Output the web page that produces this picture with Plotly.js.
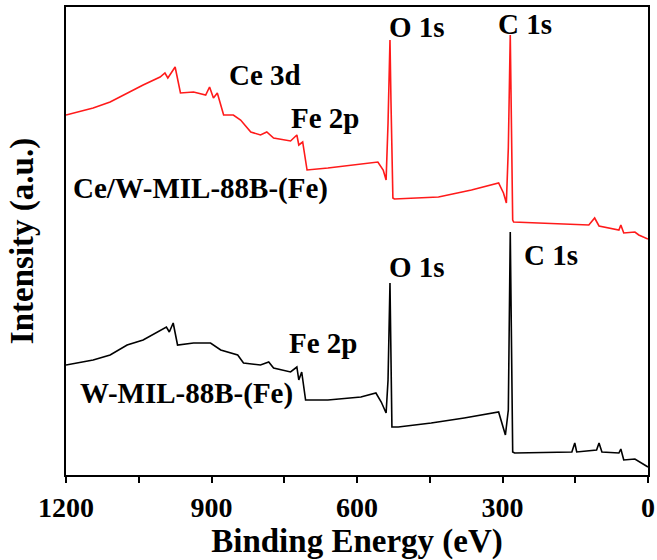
<!DOCTYPE html>
<html>
<head>
<meta charset="utf-8">
<script src="https://cdn.plot.ly/plotly-3.0.1.min.js"></script>
<style>html,body{margin:0;padding:0;background:#fff;}#chart{width:657px;height:560px;}</style>
</head>
<body>
<div id="chart"></div>
<script>
// Binding energy (eV) and intensity (arbitrary units, offset stacked)
const ceW_energy = [1200,1144,1109,1074,1041,1006,996,990,975,964,937,912,904,896,888,875,855,840,819,799,786,772,737,724,720,712,703,660,592,557,546,540,536,532,530,526,523,432,364,308,298,292,288,284,279,277,226,122,110,101,60,56,50,27,19,0];
const ceW_intensity = [360,367,373,382,390,398,402,397,408,382,383,380,388,377,382,360,360,355,343,340,343,337,334,340,330,333,305,307,311,313,305,295,352,435,375,277,276,278,285,292,282,272,327,440,255,253,252,250,257,249,245,250,242,243,240,236];

const w_energy = [1200,1144,1109,1074,1041,1006,993,987,979,970,937,902,881,846,834,799,782,772,737,724,720,714,706,660,592,561,550,540,536,532,528,515,447,379,308,294,288,284,279,275,157,151,147,106,101,95,60,56,50,27,0];
const w_intensity = [110,115,120,130,135,145,148,143,152,130,132,132,125,120,112,110,113,107,103,108,95,103,75,75,78,82,73,62,95,192,48,48,52,57,63,40,65,243,23,22,23,32,23,25,32,23,22,26,15,16,8];

const xTickVals = [1200, 900, 600, 300, 0];
const xTickText = ['1200', '900', '600', '300', '0'];

const labelTexts = ['O 1s', 'C 1s', 'Ce 3d', 'Fe 2p', 'Ce/W-MIL-88B-(Fe)', 'O 1s', 'C 1s', 'Fe 2p', 'W-MIL-88B-(Fe)'];
const labelX = [476, 254, 790, 666, 923, 476, 199, 670, 952];
const labelY = [448, 451, 400, 357, 287, 208, 220, 132, 82];

const serif = 'Liberation Serif, Times New Roman, serif';

const traces = [
  {x: ceW_energy, y: ceW_intensity, type: 'scatter', mode: 'lines', line: {color: '#ff1a1a', width: 1.6}, name: 'Ce/W-MIL-88B-(Fe)'},
  {x: w_energy, y: w_intensity, type: 'scatter', mode: 'lines', line: {color: '#000000', width: 1.6}, name: 'W-MIL-88B-(Fe)'}
];

const annotations = labelTexts.map((t, i) => ({
  text: t, x: labelX[i], y: labelY[i], xref: 'x', yref: 'y',
  showarrow: false, xanchor: 'center', yanchor: 'middle',
  font: {family: serif, size: 29, color: '#000', weight: 700}
}));

const layout = {
  width: 657, height: 560,
  margin: {l: 66, r: 9, t: 7, b: 85},
  paper_bgcolor: '#fff', plot_bgcolor: '#fff',
  showlegend: false,
  xaxis: {
    range: [1200, 0], tickvals: xTickVals, ticktext: xTickText,
    ticks: 'outside', ticklen: 6, tickwidth: 2, tickcolor: '#000',
    minor: {dtick: 150, tick0: 0, ticks: 'outside', ticklen: 6, tickwidth: 2, tickcolor: '#000'},
    showline: true, linewidth: 2, linecolor: '#000', mirror: true,
    showgrid: false, zeroline: false,
    tickfont: {family: serif, size: 28, color: '#000', weight: 700},
    title: {text: 'Binding Energy (eV)\u00A0\u00A0\u00A0\u00A0', font: {family: serif, size: 33, color: '#000', weight: 700}, standoff: 0},
    automargin: false
  },
  yaxis: {
    range: [0, 468], showticklabels: false, ticks: '',
    showline: true, linewidth: 2, linecolor: '#000', mirror: true,
    showgrid: false, zeroline: false,
    title: {text: 'Intensity (a.u.)', font: {family: serif, size: 33, color: '#000', weight: 700}, standoff: 20},
    automargin: false
  },
  annotations: annotations
};

Plotly.newPlot('chart', traces, layout, {displayModeBar: false, staticPlot: true});
</script>
</body>
</html>
